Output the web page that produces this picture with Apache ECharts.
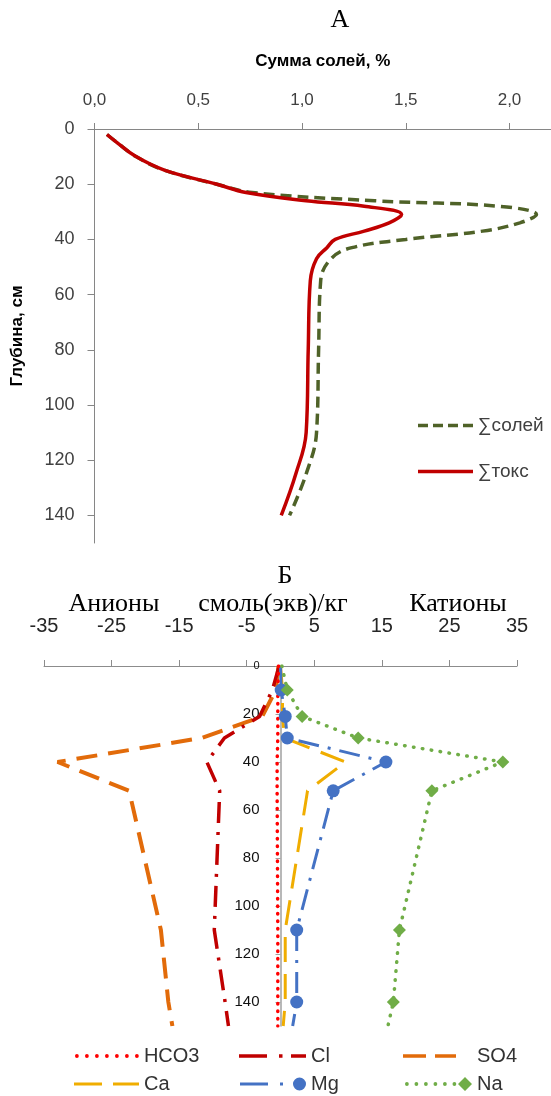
<!DOCTYPE html>
<html><head><meta charset="utf-8">
<script src="https://cdn.jsdelivr.net/npm/echarts@6/dist/echarts.min.js"></script>
<style>html,body{margin:0;padding:0;background:#fff}#c{width:551px;height:1096px}</style>
</head><body><div id="c"></div><script>
// ---- Chart A data ----
const depthA   = [2, 5, 10, 15, 20, 23, 26, 28, 31, 34, 37, 40, 43, 47, 55, 80, 110, 125, 140];
const sumSalts = [0.06, 0.11, 0.20, 0.34, 0.59, 0.76, 1.35, 1.95, 2.13, 2.05, 1.87, 1.50, 1.24, 1.14, 1.09, 1.08, 1.07, 1.02, 0.94];
const sumToxic = [0.06, 0.11, 0.20, 0.34, 0.59, 0.73, 1.02, 1.30, 1.48, 1.42, 1.30, 1.16, 1.12, 1.07, 1.04, 1.03, 1.02, 0.97, 0.90];
const ticksAx  = [0, 0.5, 1, 1.5, 2];
const ticksAy  = [0, 20, 40, 60, 80, 100, 120, 140];
// ---- Chart B data ----
const depthB = [0, 10, 21, 30, 40, 52, 110, 140, 150];
const hco3 = [-0.3, -0.4, -0.4, -0.4, -0.5, -0.5, -0.4, -0.4, -0.4];
const cl   = [-0.2, -1.2, -3.1, -8.3, -10.9, -9.0, -9.8, -8.2, -7.7];
const so4  = [-0.3, -0.7, -2.7, -11.7, -33.0, -22.4, -17.7, -16.6, -16.0];
const ca   = [0, 0.3, 0.3, 0.6, 9.6, 4.0, 0.7, 0.7, 0.4];
const mg   = [0, 0.1, 0.7, 1.0, 15.6, 7.8, 2.4, 2.4, 1.8];
const na   = [0.2, 1.0, 3.2, 11.5, 32.9, 22.4, 17.6, 16.7, 15.9];
const ticksBx = [-35, -25, -15, -5, 5, 15, 25, 35];
const ticksBy = [0, 20, 40, 60, 80, 100, 120, 140];

const SANS = 'Liberation Sans';
const zipA = xs => xs.map((x, i) => [x, depthA[i]]);
const zipB = xs => xs.map((x, i) => [x, depthB[i]]);
const zipBm = xs => xs.map((x, i) => (i === 0 || i === xs.length - 1) ? {value: [x, depthB[i]], symbol: 'none'} : [x, depthB[i]]);
const comma = v => v.toFixed(1).replace('.', ',');

// legend icon path helpers (Excel-like line samples)
const rect = (x, y, w, h) => `M${x},${y}h${w}v${h}h${-w}z`;
const circ = (cx, cy, r) => `M${cx - r},${cy}a${r},${r} 0 1,0 ${2 * r},0a${r},${r} 0 1,0 ${-2 * r},0z`;
const diam = (cx, cy, r) => `M${cx},${cy - r}L${cx + r},${cy}L${cx},${cy + r}L${cx - r},${cy}z`;
const dots = (n, step, r, cy) => Array.from({length: n}, (_, k) => circ(r + k * step, cy, r)).join('');
const ICON = {
  salts: 'path://' + rect(0, 0, 10, 3.5) + rect(15, 0, 10, 3.5) + rect(30, 0, 10, 3.5) + rect(45, 0, 10, 3.5),
  tox:   'path://' + rect(0, 0, 55, 3.5),
  hco3:  'path://' + dots(7, 10, 1.9, 1.9),
  cl:    'path://' + rect(0, 0, 28, 3.5) + rect(40, 0, 3.5, 3.5) + rect(52, 0, 15, 3.5),
  so4:   'path://' + rect(0, 0, 23, 3.5) + rect(32, 0, 21, 3.5),
  ca:    'path://' + rect(0, 0, 28, 3) + rect(39, 0, 26, 3),
  mg:    'path://' + rect(0, 5, 28, 3) + rect(40, 5, 3, 3) + circ(59.5, 6.5, 6.5),
  na:    'path://' + dots(6, 9.5, 1.9, 7) + diam(60, 7, 7)
};
const legTxt = {fontFamily: SANS, fontSize: 20, color: '#333'};
const leg = (name, icon, left, top, w, h, extra) => Object.assign({
  left, top, itemWidth: w, itemHeight: h, icon, data: [name], selectedMode: false, textStyle: legTxt
}, extra || {});
const serif = (text, x, y, size) => ({type: 'text', x, y, style: {text, font: size + 'px "Liberation Serif"', fill: '#000', align: 'center', verticalAlign: 'middle'}});

const chart = echarts.init(document.getElementById('c'));
chart.setOption({
  animation: false,
  backgroundColor: '#fff',
  grid: [
    {left: 94.5, top: 129, width: 456.5, height: 414},
    {left: 44, top: 666, width: 473, height: 360}
  ],
  xAxis: [
    {gridIndex: 0, type: 'value', position: 'top', min: 0, max: 2.2,
     name: 'Сумма солей, %', nameLocation: 'middle', nameGap: 59,
     nameTextStyle: {fontFamily: SANS, fontWeight: 'bold', fontSize: 17, color: '#000'},
     axisLine: {show: true, onZero: false, lineStyle: {color: '#868686', width: 1}},
     axisTick: {show: true, length: 6, customValues: ticksAx, lineStyle: {color: '#868686'}},
     axisLabel: {customValues: ticksAx, margin: 20, fontFamily: SANS, fontSize: 17, color: '#404040', formatter: comma},
     splitLine: {show: false}},
    {gridIndex: 1, type: 'value', position: 'top', min: -35, max: 35,
     axisLine: {show: true, onZero: false, lineStyle: {color: '#8c8c8c', width: 1}},
     axisTick: {show: true, length: 6, customValues: ticksBx, lineStyle: {color: '#8c8c8c'}},
     axisLabel: {customValues: ticksBx, margin: 30, fontFamily: SANS, fontSize: 20, color: '#262626'},
     splitLine: {show: false}}
  ],
  yAxis: [
    {gridIndex: 0, type: 'value', inverse: true, min: 0, max: 150,
     axisLine: {show: true, onZero: false, lineStyle: {color: '#868686', width: 1}},
     axisTick: {show: true, length: 7, customValues: ticksAy, lineStyle: {color: '#868686'}},
     axisLabel: {customValues: ticksAy, margin: 20, fontFamily: SANS, fontSize: 18, color: '#404040'},
     splitLine: {show: false}},
    {gridIndex: 1, type: 'value', inverse: true, min: 0, max: 150, position: 'left', offset: -236.5,
     axisLine: {show: true, onZero: false, lineStyle: {color: '#a0a0a0', width: 1.5}},
     axisTick: {show: true, length: 5, customValues: ticksBy, lineStyle: {color: '#a0a0a0'}},
     axisLabel: {customValues: ticksBy, margin: 21, fontFamily: SANS, fontSize: 15, color: '#111',
       formatter: v => v === 0 ? '{s|0}' : String(v), rich: {s: {fontSize: 11, fontFamily: SANS, color: '#111'}}},
     splitLine: {show: false}}
  ],
  legend: [
    leg('∑солей', ICON.salts, 413, 411, 55, 3.5, {textStyle: {fontFamily: SANS, fontSize: 19, color: '#404040'}}),
    leg('∑токс', ICON.tox, 413, 457, 55, 3.5, {textStyle: {fontFamily: SANS, fontSize: 19, color: '#404040'}}),
    leg('HCO3', ICON.hco3, 70, 1041, 64, 3.8),
    leg('Cl', ICON.cl, 234, 1041, 67, 3.5),
    leg('SO4', ICON.so4, 398, 1041, 53, 3.5, {textStyle: Object.assign({}, legTxt, {padding: [0, 0, 0, 16]})}),
    leg('Ca', ICON.ca, 69, 1069, 65, 3),
    leg('Mg', ICON.mg, 235, 1069, 66, 13),
    leg('Na', ICON.na, 400, 1069, 67, 14)
  ],
  graphic: [
    serif('А', 340, 20, 26),
    {type: 'text', x: 17, y: 336, rotation: Math.PI / 2, style: {text: 'Глубина, см', font: 'bold 17px "Liberation Sans"', fill: '#000', align: 'center', verticalAlign: 'middle'}},
    serif('Б', 285, 576, 26),
    serif('Анионы', 114, 604, 26),
    serif('смоль(экв)/кг', 273, 604, 26),
    serif('Катионы', 458, 604, 26)
  ],
  series: [
    {name: '∑солей', type: 'line', xAxisIndex: 0, yAxisIndex: 0, data: zipA(sumSalts), smooth: 0.4,
     symbol: 'none', color: '#4f6228', lineStyle: {color: '#4f6228', width: 3.5, type: [11, 6]}},
    {name: '∑токс', type: 'line', xAxisIndex: 0, yAxisIndex: 0, data: zipA(sumToxic), smooth: 0.4,
     symbol: 'none', color: '#c00000', lineStyle: {color: '#c00000', width: 3.5}},
    {name: 'SO4', type: 'line', xAxisIndex: 1, yAxisIndex: 1, data: zipB(so4), symbol: 'none',
     color: '#e26b0a', lineStyle: {color: '#e26b0a', width: 4, type: [21, 11]}},
    {name: 'Cl', type: 'line', xAxisIndex: 1, yAxisIndex: 1, data: zipB(cl), symbol: 'none',
     color: '#c00000', lineStyle: {color: '#c00000', width: 3.5, type: [21, 9, 3, 9]}},
    {name: 'Ca', type: 'line', xAxisIndex: 1, yAxisIndex: 1, data: zipB(ca), symbol: 'none',
     color: '#f0ad00', lineStyle: {color: '#f0ad00', width: 3, type: [25, 12]}},
    {name: 'Mg', type: 'line', xAxisIndex: 1, yAxisIndex: 1, data: zipBm(mg), symbol: 'circle', symbolSize: 13,
     color: '#4472c4', itemStyle: {color: '#4472c4'}, lineStyle: {color: '#4472c4', width: 3, type: [21, 9, 3, 9]}},
    {name: 'Na', type: 'line', xAxisIndex: 1, yAxisIndex: 1, data: zipBm(na), symbol: 'diamond', symbolSize: 13,
     color: '#70ad47', itemStyle: {color: '#70ad47'}, lineStyle: {color: '#70ad47', width: 3.5, type: [0.5, 8.5], cap: 'round'}},
    {name: 'HCO3', type: 'line', xAxisIndex: 1, yAxisIndex: 1, data: zipB(hco3), symbol: 'none',
     color: '#ff0000', lineStyle: {color: '#ff0000', width: 3.5, type: [0.5, 7], cap: 'round'}}
  ]
});
</script></body></html>
